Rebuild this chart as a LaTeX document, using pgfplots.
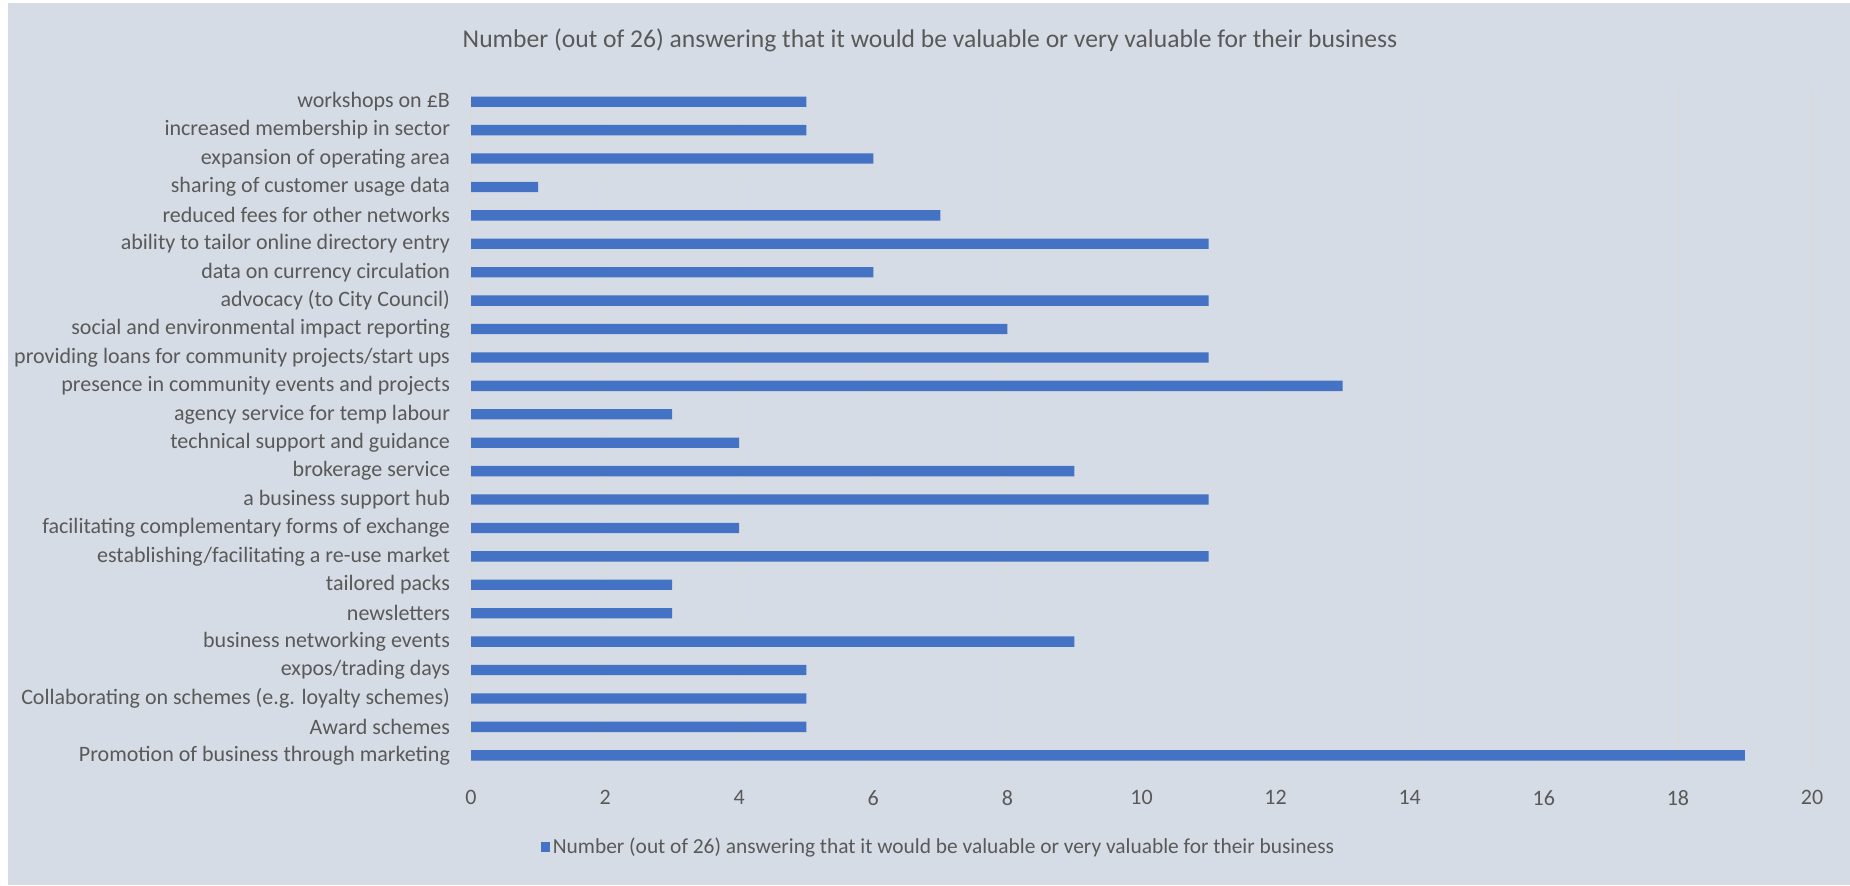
\documentclass[border=0pt]{standalone}
\usepackage{fontspec}
\setmainfont{Carlito}
\usepackage{pgfplots}
\pgfplotsset{compat=1.18}
\definecolor{bg}{HTML}{D6DCE5}
\definecolor{barc}{HTML}{4472C4}
\definecolor{txt}{HTML}{595959}
\definecolor{gridc}{HTML}{DADADA}
\begin{document}
\begin{tikzpicture}
\useasboundingbox (0,0) rectangle (925pt,442.5pt);
\fill[white] (0,0) rectangle (925pt,442.5pt);
\fill[bg] (4pt,0) rectangle (925pt,441pt);
\node[text=txt, font=\fontsize{12.8}{15}\selectfont] at (465pt,422.5pt) {Number (out of 26) answering that it would be valuable or very valuable for their business};
\begin{axis}[
  at={(235.5pt,57.75pt)}, anchor=south west,
  scale only axis, width=670.5pt, height=341pt,
  xbar, bar width=5.2pt, bar shift=0pt,
  xmin=0, xmax=20, ymin=-0.5, ymax=23.5,
  xtick={0,2,...,20},
  ytick={0,...,23},
  yticklabels={{Promotion of business through marketing},{Award schemes},{Collaborating on schemes (e.g. loyalty schemes)},{expos/trading days},{business networking events},{newsletters},{tailored packs},{establishing/facilitating a re-use market},{facilitating complementary forms of exchange},{a business support hub},{brokerage service},{technical support and guidance},{agency service for temp labour},{presence in community events and projects},{providing loans for community projects/start ups},{social and environmental impact reporting},{advocacy (to City Council)},{data on currency circulation},{ability to tailor online directory entry},{reduced fees for other networks},{sharing of customer usage data},{expansion of operating area},{increased membership in sector},{workshops on £B}},
  major tick length=0pt,
  axis line style={draw=none},
  xmajorgrids, major grid style={gridc, line width=0.6pt},
  ticklabel style={text=txt, font=\fontsize{11}{13}\selectfont},
  /pgf/number format/assume math mode=true,
  xticklabel style={yshift=-7pt},
  yticklabel style={xshift=-7pt},
  legend style={at={(0.349,-0.1136)}, anchor=center, draw=none, fill=none, text=txt, font=\fontsize{10.7}{13}\selectfont, inner sep=0pt, nodes={inner xsep=1.5pt}},
  legend image code/.code={\fill[barc] (0pt,-2.6pt) rectangle (4.5pt,2.6pt);},
]
\addplot[fill=barc, draw=none] coordinates {
(19,0) (5,1) (5,2) (5,3) (9,4) (3,5) (3,6) (11,7) (4,8) (11,9) (9,10) (4,11) (3,12) (13,13) (11,14) (8,15) (11,16) (6,17) (11,18) (7,19) (1,20) (6,21) (5,22) (5,23)
};
\addlegendentry{Number (out of 26) answering that it would be valuable or very valuable for their business}
\end{axis}
\end{tikzpicture}
\end{document}
